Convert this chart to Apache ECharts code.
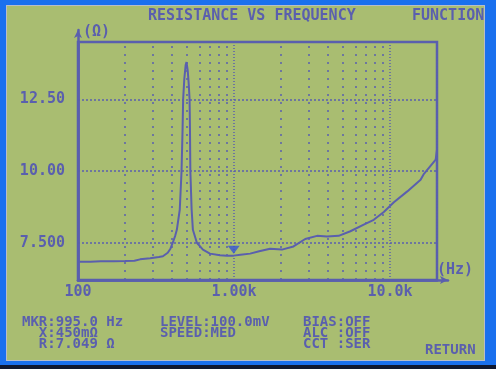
<!DOCTYPE html>
<html>
<head>
<meta charset="utf-8">
<script src="https://cdn.jsdelivr.net/npm/echarts@6/dist/echarts.min.js"></script>
<style>
  html, body { margin: 0; padding: 0; }
  body { width: 496px; height: 369px; background: #1a70ee; position: relative; overflow: hidden; }
  #lcd { position: absolute; left: 6px; top: 5px; width: 479px; height: 356px; background: #a9bd71; box-shadow: inset 0 0 0 1px #b8bdc8; }
  #bottomStrip { position: absolute; left: 0; top: 365px; width: 496px; height: 4px; background: #101830; }
  #chart { position: absolute; left: 0; top: 0; width: 496px; height: 369px; }
</style>
</head>
<body>
<div id="lcd"></div>
<div id="bottomStrip"></div>
<div id="chart"></div>
<script>
// ---- data ----
const freq = [100, 120, 140, 170, 200, 230, 250, 290, 330, 350, 376, 392, 405, 420, 430, 449, 461, 468, 472, 480, 490, 496, 505, 513, 519, 522, 525, 535, 545, 578, 632, 701, 813, 900, 995, 1100, 1268, 1450, 1704, 2027, 2406, 2861, 3404, 3945, 4685, 5570, 6783, 7866, 9120, 10580, 12900, 15700, 16400, 19620, 20000];
const resistance = [6.84, 6.84, 6.85, 6.85, 6.86, 6.87, 6.92, 6.96, 7.00, 7.03, 7.15, 7.30, 7.50, 7.75, 7.95, 8.65, 10.0, 11.45, 12.5, 13.2, 13.7, 13.8, 13.5, 13.0, 12.5, 11.45, 10.0, 8.65, 7.95, 7.50, 7.26, 7.12, 7.06, 7.05, 7.05, 7.08, 7.12, 7.20, 7.29, 7.26, 7.37, 7.63, 7.74, 7.72, 7.74, 7.90, 8.13, 8.30, 8.57, 8.91, 9.29, 9.70, 9.88, 10.40, 10.75];
const yTicks = [7.5, 10, 12.5];
const yTickLabels = ['7.500', '10.00', '12.50'];
const xTicks = [100, 1000, 10000];
const xTickLabels = ['100', '1.00k', '10.0k'];
const minorFreq = [200, 300, 400, 500, 600, 700, 800, 900, 2000, 3000, 4000, 5000, 6000, 7000, 8000, 9000];
const markerFreq = 995.0;
const markerR = 7.049;
const titleText = 'RESISTANCE VS FREQUENCY';
const infoLeft = ['MKR:995.0 Hz', '  X:450mΩ', '  R:7.049 Ω'];
const infoMid = ['LEVEL:100.0mV', 'SPEED:MED'];
const infoRight = ['BIAS:OFF', 'ALC :OFF', 'CCT :SER'];

const ink = '#5a5fae';
const FONT = '"DejaVu Sans Mono", "Liberation Mono", monospace';

const chart = echarts.init(document.getElementById('chart'), null, { renderer: 'canvas' });

function txt(text, x, y, size, align) {
  return {
    type: 'text', x: x, y: y, silent: true,
    style: { text: text, fill: ink, font: 'bold ' + size + 'px ' + FONT, align: align || 'left', verticalAlign: 'middle' }
  };
}
const graphics = [
  txt(titleText, 148, 16, 15),
  txt('FUNCTION', 412, 16, 15),
  txt('(Ω)', 83, 32, 15),
  txt('(Hz)', 437, 270, 15),
  txt('RETURN', 425, 350, 14)
];
infoLeft.forEach((t, i) => graphics.push(txt(t, 22, 322 + i * 11, 14)));
infoMid.forEach((t, i) => graphics.push(txt(t, 160, 322 + i * 11, 14)));
infoRight.forEach((t, i) => graphics.push(txt(t, 303, 322 + i * 11, 14)));

const gridLines = [];
minorFreq.forEach(f => gridLines.push({ xAxis: f, lineStyle: { type: [2, 6], width: 1.5 } }));
yTicks.forEach(v => gridLines.push({ yAxis: v, lineStyle: { type: [2, 2], width: 1.5 } }));

const option = {
  backgroundColor: 'transparent',
  animation: false,
  grid: [
    { left: 78, right: 59, top: 42, bottom: 89, show: true, borderColor: ink, borderWidth: 2.5, backgroundColor: 'transparent' },
    { left: 78, right: 48, top: 30, bottom: 89, show: false }
  ],
  xAxis: [
    {
      type: 'log', logBase: 10, min: 100, max: 20000, gridIndex: 0,
      axisLine: { show: true, lineStyle: { color: ink, width: 2.5 } },
      axisTick: { show: false },
      axisLabel: {
        color: ink, fontFamily: FONT, fontWeight: 'bold', fontSize: 15, margin: 5,
        showMaxLabel: false,
        formatter: function (v) {
          const i = xTicks.findIndex(t => Math.abs(t - v) / t < 1e-6);
          return i >= 0 ? xTickLabels[i] : '';
        }
      },
      splitLine: { show: true, lineStyle: { color: ink, type: [1, 2], width: 1.5 } }
    },
    {
      type: 'value', min: 0, max: 1, gridIndex: 1,
      axisLine: { show: true, onZero: false, symbol: ['none', 'arrow'], symbolSize: [6, 8], lineStyle: { color: ink, width: 2.5 } },
      axisTick: { show: false }, axisLabel: { show: false }, splitLine: { show: false }
    }
  ],
  yAxis: [
    {
      type: 'value', min: 6.2, max: 14.5, gridIndex: 0,
      axisLine: { show: true, lineStyle: { color: ink, width: 2.5 } },
      axisTick: { show: false, customValues: yTicks },
      axisLabel: {
        color: ink, fontFamily: FONT, fontWeight: 'bold', fontSize: 15, margin: 13,
        customValues: yTicks,
        formatter: function (v) {
          const i = yTicks.findIndex(t => Math.abs(t - v) < 1e-6);
          return i >= 0 ? yTickLabels[i] : '';
        }
      },
      splitLine: { show: false }
    },
    {
      type: 'value', min: 0, max: 1, gridIndex: 1,
      axisLine: { show: true, onZero: false, symbol: ['none', 'arrow'], symbolSize: [6, 8], lineStyle: { color: ink, width: 2.5 } },
      axisTick: { show: false }, axisLabel: { show: false }, splitLine: { show: false }
    }
  ],
  series: [
    {
      type: 'line', xAxisIndex: 0, yAxisIndex: 0, z: 3,
      data: freq.map((f, i) => [f, resistance[i]]),
      showSymbol: false, smooth: false,
      lineStyle: { color: ink, width: 2 },
      markLine: {
        silent: true, z: 1, symbol: ['none', 'none'], animation: false,
        label: { show: false },
        lineStyle: { color: ink },
        emphasis: { disabled: true },
        data: gridLines
      }
    },
    {
      type: 'scatter', xAxisIndex: 0, yAxisIndex: 0, z: 4,
      data: [[markerFreq, markerR]],
      symbol: 'triangle', symbolRotate: 180, symbolSize: [12, 8], symbolOffset: [0, -6],
      itemStyle: { color: '#3454d6' }
    }
  ],
  graphic: graphics
};
chart.setOption(option);
</script>
</body>
</html>
